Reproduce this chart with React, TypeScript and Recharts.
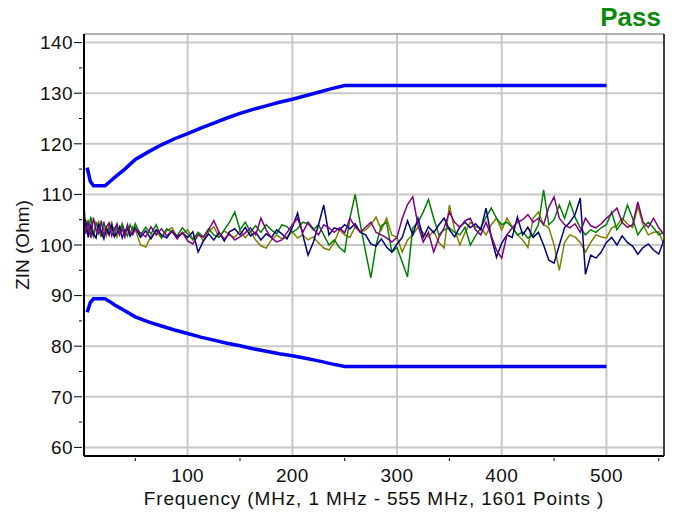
import React from 'react';
import { LineChart, Line, XAxis, YAxis, CartesianGrid, ReferenceLine, Label } from 'recharts';

// sample frequencies (MHz) of the measured traces
const freqs = [
  1, 2.5, 5, 7.5, 10, 12.5, 15, 17.5, 20, 22.5,
  25, 27.5, 30, 32.5, 35, 37.5, 40, 42.5, 45, 47.5,
  50, 55, 60, 65, 70, 75, 80, 85, 90, 95,
  100, 105, 110, 115, 120, 125, 130, 135, 140, 145,
  150, 155, 160, 165, 170, 175, 180, 185, 190, 195,
  200, 205, 210, 215, 220, 225, 230, 235, 240, 245,
  250, 255, 260, 265, 270, 275, 280, 285, 290, 295,
  300, 305, 310, 315, 320, 325, 330, 335, 340, 345,
  350, 355, 360, 365, 370, 375, 380, 385, 390, 395,
  400, 405, 410, 415, 420, 425, 430, 435, 440, 445,
  450, 455, 460, 465, 470, 475, 480, 485, 490, 495,
  500, 505, 510, 515, 520, 525, 530, 535, 540, 545,
  550, 555,
];

const navy = [
  103, 105, 101.5, 103.8, 102.2, 101.4, 104.2, 102.6, 101.2, 103.4,
  102, 104, 101.6, 102.4, 103.6, 101.4, 102.8, 103.4, 101.8, 102.4,
  103.4, 101.5, 102.8, 101.2, 103, 102, 101.4, 102.8, 101.6, 102.4,
  101.5, 102.6, 98.6, 100.8, 102.2, 101, 102.5, 100.8, 102.6, 103.2,
  102, 103.5, 101.8, 102.5, 101, 102.2, 101.5, 103, 102.2, 101.2,
  103.5, 106.3, 102, 98, 100.5, 104, 107.9, 102, 103.4, 103,
  104, 103.2, 104.2, 102.5, 102, 100.2, 99.8, 101.2, 99.6, 98.6,
  100.2, 101.5, 104.8, 102, 105.3, 101.5, 103.6, 102.4, 104, 105.3,
  103, 101.6, 103.6, 104.5, 103.4, 104.2, 103, 107.3, 101.5, 97.6,
  100.4, 102, 101.5, 105.5, 102, 103.5, 101.5, 102.5, 100, 97,
  96.4, 100, 103.4, 104.5, 106, 109.3, 94.2, 98, 97.4, 98.6,
  100.5, 101.5, 100, 101.8, 100.5, 99.8, 98.2, 99.5, 100.2, 99,
  98.2, 101,
];

const green = [
  108, 103.5, 102.4, 105.6, 101.8, 104.4, 103.2, 101.6, 104.6, 102.4,
  103, 104.4, 101.8, 103.6, 102.2, 104.2, 102.6, 101.8, 104, 102.8,
  104.2, 102, 103.5, 102.2, 104, 101.4, 103.2, 102.5, 101.8, 103.4,
  102.2, 101, 102.5, 101.6, 103.2, 102, 101.5, 103, 104.5, 106.5,
  103, 104.5, 102.6, 103.8, 102.5, 104, 103, 102.2, 104, 103.6,
  102.5, 103.2, 104.5, 104.2, 103, 104, 102, 100, 101, 99.5,
  98.6, 105.3, 110, 104, 98.6, 93.5, 100, 103.8, 104.5, 98.6,
  99.5, 96.6, 93.7, 103.4, 104.5, 106.5, 109, 105.3, 102, 103,
  103.4, 102.5, 102, 103.5, 100, 101.8, 103.4, 105.5, 107.3, 105.3,
  104, 104.5, 103.5, 102, 102.6, 101.4, 102, 104, 110.9, 104,
  105, 107.9, 105.3, 108.5, 105.5, 103.4, 102, 103, 102.5, 103.4,
  104, 106.5, 103, 104.5, 107.9, 105.3, 102, 103.5, 104.5, 103.4,
  102, 102.6,
];

const olive = [
  104.5, 102.6, 105, 103, 101.6, 103.8, 104.6, 102.2, 103.4, 101.8,
  104, 102.8, 103.4, 101.6, 103.2, 104, 102.2, 103.2, 101.8, 103.6,
  103, 100, 99.6, 101.8, 102.6, 101.4, 102.8, 103.4, 101.6, 102.2,
  103, 101.2, 102.4, 100.8, 102.6, 103.6, 101.6, 102.8, 102, 101.5,
  102.8, 101.4, 102.6, 101, 99.8, 99.4, 101, 102, 101.2, 101.6,
  102.6, 101.4, 102, 101, 101.6, 100.4, 99.4, 99, 100.5, 103,
  102, 101.5, 103.6, 102.5, 103, 104, 105.5, 103, 105.3, 102,
  101.5, 98.6, 101, 102, 103.5, 102.4, 101.6, 102.8, 100.5, 99.4,
  107.9, 103, 100, 102.5, 104.5, 103.6, 103.4, 102, 104, 105.3,
  103, 105.3, 103.6, 102, 101, 99.5, 105.3, 106.5, 104, 103.4,
  100, 95, 100.5, 102, 101.6, 100.5, 98.6, 100.5, 102, 101.6,
  101.4, 103.4, 103.8, 105.3, 104.2, 103.4, 107.6, 104, 102, 102.5,
  102.6, 100,
];

const purple = [
  106.5, 102.2, 104.6, 101.4, 105.4, 103, 102.2, 104.8, 101.6, 103.6,
  104.4, 101.8, 103, 104.2, 102, 103.2, 101.6, 104, 102.6, 102,
  103.2, 102.4, 101.6, 103.6, 102, 103.2, 101.8, 102.8, 101.2, 102.5,
  100.8, 100.2, 102, 101.5, 103, 104.8, 102.5, 101.2, 102.2, 101,
  101.6, 102.4, 103.4, 102, 105.3, 103, 101.4, 100.6, 101, 102.5,
  104, 105.3, 102.5, 104.5, 103.2, 102, 104, 103.4, 102.5, 103.4,
  102.4, 105.3, 103.6, 102.6, 103.5, 104.5, 102.5, 102, 101.4, 100.6,
  101.5, 105.3, 108, 109.5, 104, 100.6, 102.5, 98.6, 101.5, 103.4,
  106.5, 104.5, 103.5, 104.8, 105.3, 103, 102, 104.5, 101.8, 99,
  97.4, 102, 103.4, 104.5, 105, 106, 104.5, 105.3, 104, 107.5,
  109.5, 105.3, 104, 103.4, 104.2, 102.5, 105.3, 103.8, 103.4, 104.2,
  105.3, 106.2, 107.3, 104.5, 103.5, 104, 108.5, 104.5, 103.5, 105.3,
  103.4, 102,
];

// limit lines
const limitFreqs = [
  4, 7, 10, 21, 25, 30, 40, 50, 62.5, 75, 87.5, 100, 112.5, 125, 137.5,
  150, 162.5, 175, 187.5, 200, 212.5, 225, 237.5, 250, 500,
];
const upperLimit = [
  115.3, 112.6, 111.7, 111.7, 112.4, 113.3, 115, 116.9, 118.4, 119.8, 121, 122, 123.1, 124.1, 125.1,
  126, 126.8, 127.5, 128.2, 128.8, 129.5, 130.2, 130.9, 131.5, 131.5,
];
const lowerLimit = [
  86.7, 88.6, 89.4, 89.4, 88.9, 88.2, 87, 85.8, 84.8, 84, 83.2, 82.5, 81.8, 81.2, 80.6,
  80.1, 79.5, 79, 78.5, 78.1, 77.6, 77.1, 76.5, 76, 76,
];

const xTicks = [50, 100, 150, 200, 250, 300, 350, 400, 450, 500, 550];
const yTicks = [60, 65, 70, 75, 80, 85, 90, 95, 100, 105, 110, 115, 120, 125, 130, 135, 140];
const xGrid = [100, 200, 300, 400, 500];
const yGrid = [60, 70, 80, 90, 100, 110, 120, 130, 140];

const font = '"Liberation Sans", Arial, sans-serif';

const toRows = (vals: number[], xs: number[]) => xs.map((f, i) => ({ f, v: vals[i] }));

const traces = [
  { name: 'olive', color: '#808000', data: toRows(olive, freqs) },
  { name: 'green', color: '#008000', data: toRows(green, freqs) },
  { name: 'navy', color: '#000080', data: toRows(navy, freqs) },
  { name: 'purple', color: '#800080', data: toRows(purple, freqs) },
];

const YTick = (props: any) => {
  const { x, y, payload } = props;
  const major = payload.value % 10 === 0;
  return (
    <g>
      <line x1={x - (major ? 8 : 3)} x2={x} y1={y} y2={y} stroke="#000" strokeWidth={1} />
      {major && (
        <text x={x - 9} y={y} dy="0.36em" textAnchor="end" fontSize={19} fill="#111" fontFamily={font} letterSpacing={0.4}>
          {payload.value}
        </text>
      )}
    </g>
  );
};

const XTick = (props: any) => {
  const { x, y, payload } = props;
  const major = payload.value % 100 === 0;
  return (
    <g>
      {!major && <line x1={x} x2={x} y1={y} y2={y + 3} stroke="#000" strokeWidth={1} />}
      {major && (
        <text x={x} y={y + 24} textAnchor="middle" fontSize={19} fill="#111" fontFamily={font} letterSpacing={0.4}>
          {payload.value}
        </text>
      )}
    </g>
  );
};

export default function App() {
  return (
    <div style={{ position: 'absolute', left: 0, top: 0, width: 678, height: 517, background: '#fff' }}>
      <div
        style={{
          position: 'absolute',
          right: 17,
          top: 2,
          fontFamily: font,
          fontWeight: 'bold',
          fontSize: 26,
          color: '#0a8a0a',
        }}
      >
        Pass
      </div>
      <LineChart width={678} height={517} margin={{ top: 34, right: 14, bottom: 11, left: 24 }}>
        <CartesianGrid
          stroke="#c8c8c8"
          strokeWidth={2}
          horizontalValues={yGrid}
          verticalValues={xGrid}
        />
        <XAxis
          type="number"
          dataKey="f"
          domain={[1, 555]}
          ticks={xTicks}
          allowDataOverflow
          height={50}
          tickSize={0}
          tickLine={false}
          tick={<XTick />}
          axisLine={{ stroke: '#000', strokeWidth: 2 }}
        >
          <Label
            value="Frequency (MHz, 1 MHz - 555 MHz, 1601 Points )"
            position="insideBottom"
            offset={1}
            style={{ fontSize: 19, fontFamily: font, fill: '#111', letterSpacing: '0.85px' }}
          />
        </XAxis>
        <YAxis
          type="number"
          domain={[58.3, 141.7]}
          ticks={yTicks}
          allowDataOverflow
          width={60}
          tickSize={0}
          tickLine={false}
          tick={<YTick />}
          axisLine={{ stroke: '#000', strokeWidth: 2 }}
        >
          <Label
            value="ZIN (Ohm)"
            angle={-90}
            position="insideLeft"
            offset={-2}
            style={{ fontSize: 19, fontFamily: font, fill: '#111', textAnchor: 'middle' }}
          />
        </YAxis>
        <ReferenceLine y={141.7} stroke="#999" strokeWidth={1.5} />
        <ReferenceLine x={555} stroke="#000" strokeWidth={1.5} />
        {traces.map((t) => (
          <Line
            key={t.name}
            data={t.data}
            dataKey="v"
            stroke={t.color}
            strokeWidth={1.5}
            dot={false}
            type="linear"
            isAnimationActive={false}
          />
        ))}
        <Line
          data={toRows(upperLimit, limitFreqs)}
          dataKey="v"
          stroke="#0000ff"
          strokeWidth={3.5}
          dot={false}
          type="linear"
          isAnimationActive={false}
        />
        <Line
          data={toRows(lowerLimit, limitFreqs)}
          dataKey="v"
          stroke="#0000ff"
          strokeWidth={3.5}
          dot={false}
          type="linear"
          isAnimationActive={false}
        />
      </LineChart>
    </div>
  );
}
